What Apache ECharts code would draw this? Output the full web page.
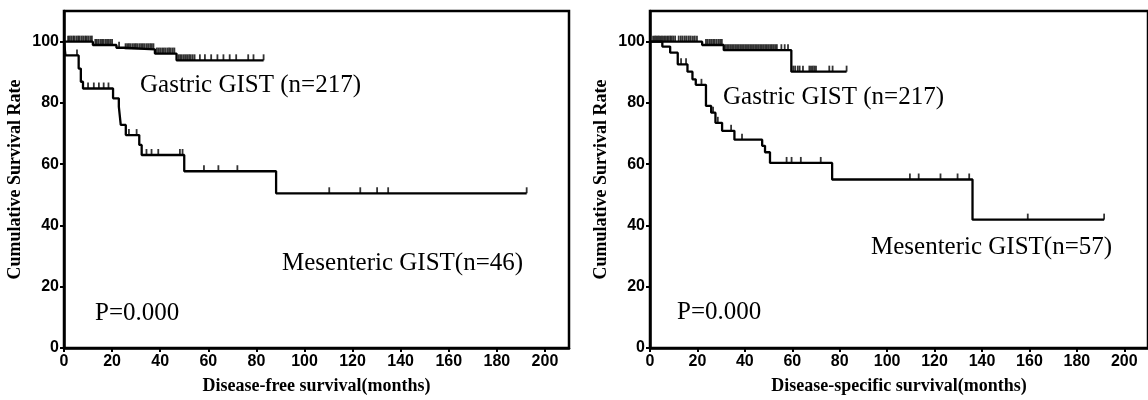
<!DOCTYPE html>
<html><head><meta charset="utf-8">
<script src="https://cdn.jsdelivr.net/npm/echarts@6/dist/echarts.min.js"></script>
<style>html,body{margin:0;padding:0;background:#fff}#c{width:1148px;height:400px}</style>
</head><body><div id="c"></div>
<script>
// ---- data ----
const xTicks = [0, 20, 40, 60, 80, 100, 120, 140, 160, 180, 200];
const yTicks = [0, 20, 40, 60, 80, 100];

// Disease-free survival (left panel): [month, survival %] after each event
const dfsGastricSteps = [[0,100],[12.0,98.9],[21.8,98.0],[24.9,97.5],[37.8,96.1],[46.8,93.9],[83.0,93.9]];
const dfsGastricCensor = [1.7,2.3,3.0,3.8,4.4,5.2,5.9,6.5,7.3,8.0,8.8,9.4,10.1,10.9,11.6,
  13.0,13.6,14.3,15.1,15.8,16.4,17.2,17.9,18.6,19.3,20.0,22.9,
  25.6,26.3,27.0,27.7,28.5,29.2,29.9,30.6,31.4,32.1,32.8,33.5,34.3,35.0,35.8,36.5,37.2,
  38.6,39.3,40.0,40.8,41.5,42.2,43.0,43.7,44.4,45.2,45.9,
  47.6,48.3,49.0,49.8,50.5,51.2,52.0,52.7,53.5,54.3,56.5,58.6,61.2,63.8,66.3,68.9,71.6,76.6,78.8,83.0];
const dfsMesentericSteps = [[0,100],[0.6,95.5],[6.1,91.2],[7.0,86.9],[7.9,84.7],[20.4,81.5],[22.8,78.8],[23.6,72.8],
  [25.7,69.5],[31.3,66.3],[32.3,63.0],[50.0,57.7],[88.2,50.5],[192.4,50.5]];
const dfsMesentericCensor = [5.4,10.0,12.4,14.5,16.5,18.5,27.0,30.2,34.3,36.4,39.2,48.2,49.3,58.2,64.2,72.1,110.3,123.2,130.2,134.8,192.4];

// Disease-specific survival (right panel)
const dssGastricSteps = [[0,100],[22.0,98.9],[31.1,97.2],[59.6,90.2],[82.9,90.2]];
const dssGastricCensor = [1.3,2.0,2.6,3.3,3.9,4.6,5.2,5.9,6.5,7.2,7.8,8.5,9.1,9.8,10.6,12.1,13.0,13.8,14.7,15.5,16.4,17.2,18.1,18.9,19.8,
  23.6,24.3,25.1,25.8,26.6,27.3,28.1,28.9,29.6,30.3,
  31.8,32.5,33.2,33.9,34.6,35.3,36.0,36.7,37.4,38.1,38.8,39.5,40.2,40.9,41.6,42.3,43.0,43.7,44.4,45.1,45.8,46.5,47.2,47.9,48.6,49.3,50.0,50.7,51.4,52.1,52.8,53.5,55.4,56.8,58.2,
  60.4,61.2,62.3,63.1,64.5,67.2,67.9,68.6,69.3,70.0,75.6,77.0,82.9];
const dssMesentericSteps = [[0,100],[5.2,98.4],[8.5,96.4],[11.7,92.6],[15.8,90.2],[17.9,87.7],[19.3,85.9],[23.6,79.0],
  [25.8,76.8],[27.6,73.5],[30.4,70.9],[35.6,68.0],[47.3,66.0],[48.5,63.9],[50.6,60.4],[76.8,55.0],[136.0,41.9],[191.5,41.9]];
const dssMesentericCensor = [13.1,15.2,21.7,26.6,28.6,34.2,38.8,57.6,59.7,63.6,72.0,109.6,113.3,122.5,129.7,134.6,159.3,191.5];

const panelXNames = ['Disease-free survival(months)', 'Disease-specific survival(months)'];
const yName = 'Cumulative Survival Rate';
const annotations = [
  ['Gastric GIST (n=217)', 'Mesenteric GIST(n=46)', 'P=0.000'],
  ['Gastric GIST (n=217)', 'Mesenteric GIST(n=57)', 'P=0.000']
];

// ---- chart ----
function survAt(steps, t) {
  let v = steps[0][1];
  for (const s of steps) { if (s[0] <= t) v = s[1]; else break; }
  return v;
}
function censorPts(steps, times) { return times.map(t => [t, survAt(steps, t)]); }

const BLACK = '#000';
const grids = [
  { left: 64, top: 11, width: 505, height: 339 },
  { left: 650, top: 11, width: 505, height: 339 }
];
const labelFont = { color: BLACK, fontFamily: 'Liberation Sans', fontWeight: 'bold', fontSize: 16 };
const nameFont = { color: BLACK, fontFamily: 'Liberation Serif', fontWeight: 'bold', fontSize: 18 };

function xAxis(i) {
  return {
    gridIndex: i, type: 'value', min: 0, max: 210,
    name: panelXNames[i], nameLocation: 'middle', nameGap: 29, nameTextStyle: nameFont,
    axisLine: { show: true, lineStyle: { color: BLACK, width: 2.5 } },
    axisTick: { show: true, length: 4, lineStyle: { color: BLACK, width: 2 }, customValues: xTicks },
    axisLabel: Object.assign({ margin: 6, customValues: xTicks }, labelFont),
    splitLine: { show: false }
  };
}
function yAxis(i) {
  return {
    gridIndex: i, type: 'value', min: 0, max: 110,
    name: yName, nameLocation: 'middle', nameGap: 40, nameRotate: 90, nameTextStyle: nameFont,
    axisLine: { show: true, lineStyle: { color: BLACK, width: 2.5 } },
    axisTick: { show: true, length: 4, lineStyle: { color: BLACK, width: 2 }, customValues: yTicks },
    axisLabel: Object.assign({ margin: 5, customValues: yTicks }, labelFont),
    splitLine: { show: false }
  };
}
function curve(i, steps) {
  return { type: 'line', xAxisIndex: i, yAxisIndex: i, step: 'end', data: steps, showSymbol: false,
    symbol: 'none', lineStyle: { color: BLACK, width: 2.3 }, silent: true, z: 3 };
}
function censor(i, steps, times) {
  return { type: 'scatter', xAxisIndex: i, yAxisIndex: i, data: censorPts(steps, times),
    symbol: 'rect', symbolSize: [1.8, 6], symbolOffset: [0, -3], itemStyle: { color: BLACK }, silent: true, z: 4 };
}
function txt(s, x, y) {
  return { type: 'text', x: x, y: y, silent: true,
    style: { text: s, font: '25px "Liberation Serif"', fill: BLACK, align: 'left', verticalAlign: 'middle',
             textAlign: 'left', textVerticalAlign: 'middle' } };
}

const chart = echarts.init(document.getElementById('c'), null, { renderer: 'canvas' });
chart.setOption({
  animation: false,
  backgroundColor: '#fff',
  grid: grids.map(g => Object.assign({ show: true, borderColor: BLACK, borderWidth: 2.5, backgroundColor: 'transparent' }, g)),
  xAxis: [xAxis(0), xAxis(1)],
  yAxis: [yAxis(0), yAxis(1)],
  series: [
    curve(0, dfsGastricSteps), censor(0, dfsGastricSteps, dfsGastricCensor),
    curve(0, dfsMesentericSteps), censor(0, dfsMesentericSteps, dfsMesentericCensor),
    curve(1, dssGastricSteps), censor(1, dssGastricSteps, dssGastricCensor),
    curve(1, dssMesentericSteps), censor(1, dssMesentericSteps, dssMesentericCensor)
  ],
  graphic: [
    txt(annotations[0][0], 140, 85), txt(annotations[0][1], 282, 263), txt(annotations[0][2], 95, 313),
    txt(annotations[1][0], 723, 97), txt(annotations[1][1], 871, 247), txt(annotations[1][2], 677, 312)
  ]
});
</script></body></html>
